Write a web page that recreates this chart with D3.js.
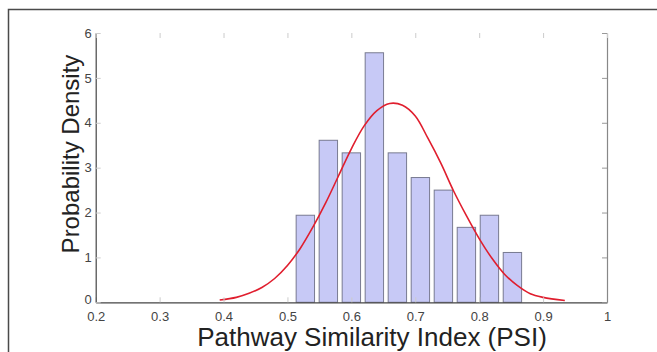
<!DOCTYPE html>
<html>
<head>
<meta charset="utf-8">
<script src="https://d3js.org/d3.v7.min.js"></script>
<style>
  body { margin: 0; background: #fff; }
  svg { display: block; font-family: "Liberation Sans", Arial, sans-serif; }
</style>
</head>
<body>
<div id="chart"></div>
<script>
// canvas size
var width = 657
var height = 352

// histogram: bin centres and probability density
var binCenters = [0.528, 0.564, 0.600, 0.636, 0.672, 0.708, 0.744, 0.780, 0.816, 0.852]
var densities  = [1.94, 3.61, 3.33, 5.56, 3.33, 2.78, 2.50, 1.67, 1.94, 1.11]

// fitted normal curve
var curveX = [0.394, 0.42, 0.44, 0.46, 0.48, 0.50, 0.52, 0.54, 0.56, 0.58, 0.60, 0.62, 0.64, 0.66,
              0.68, 0.70, 0.72, 0.74, 0.76, 0.78, 0.80, 0.82, 0.84, 0.86, 0.88, 0.90, 0.934]
var curveY = [0.05, 0.11, 0.20, 0.33, 0.53, 0.82, 1.20, 1.68, 2.22, 2.82, 3.42, 3.93, 4.27, 4.43,
              4.39, 4.15, 3.65, 3.10, 2.48, 1.93, 1.42, 0.98, 0.62, 0.37, 0.19, 0.11, 0.04]

// tick labels
var xTicks = [0.2, 0.3, 0.4, 0.5, 0.6, 0.7, 0.8, 0.9, 1]
var yTicks = [0, 1, 2, 3, 4, 5, 6]

var binWidth = 0.036
var barFrac = 0.8

var plot = { left: 95.7, right: 607, top: 33, bottom: 302.3 }

var svg = d3.select("#chart")
  .append("svg")
    .attr("width", width)
    .attr("height", height)

// outer frame of the figure
svg.append("rect")
  .attr("x", 8.5)
  .attr("y", 9.5)
  .attr("width", 700)
  .attr("height", 400)
  .attr("fill", "none")
  .attr("stroke", "#4a4a4a")
  .attr("stroke-width", 1.5)

var x = d3.scaleLinear().domain([0.2, 1]).range([plot.left, plot.right])
var y = d3.scaleLinear().domain([0, 6]).range([plot.bottom, plot.top])

// bars
svg.append("g")
  .selectAll("rect")
  .data(binCenters)
  .enter()
  .append("rect")
    .attr("x", function(d){ return x(d - binWidth * barFrac / 2) })
    .attr("width", function(d){ return x(d + binWidth * barFrac / 2) - x(d - binWidth * barFrac / 2) })
    .attr("y", function(d, i){ return y(densities[i]) })
    .attr("height", function(d, i){ return y(0) - y(densities[i]) })
    .attr("fill", "#c7c9f6")
    .attr("stroke", "#55586e")
    .attr("stroke-opacity", 0.75)
    .attr("stroke-width", 1)

// normal fit
var line = d3.line()
  .x(function(d){ return x(d[0]) })
  .y(function(d){ return y(d[1]) })
  .curve(d3.curveCatmullRom)

svg.append("path")
  .datum(d3.zip(curveX, curveY))
  .attr("d", line)
  .attr("fill", "none")
  .attr("stroke", "#e01e2e")
  .attr("stroke-width", 1.6)

// axes (MATLAB style, ticks inward)
var xAxis = svg.append("g")
  .attr("transform", "translate(0," + plot.bottom + ")")
  .call(d3.axisBottom(x).tickValues(xTicks).tickSizeInner(-5).tickSizeOuter(0).tickPadding(9)
        .tickFormat(function(d){ return d === 1 ? "1" : d3.format(".1f")(d) }))
xAxis.select(".domain").attr("stroke", "#444").attr("stroke-width", 1.2)
xAxis.selectAll(".tick line").attr("stroke", "#ccc")
xAxis.selectAll("text").attr("font-size", 13).attr("fill", "#444")

var yAxis = svg.append("g")
  .attr("transform", "translate(" + plot.left + ",0)")
  .call(d3.axisLeft(y).tickValues(yTicks).tickSizeInner(-5).tickSizeOuter(0).tickPadding(4)
        .tickFormat(d3.format("d")))
yAxis.select(".domain").attr("stroke", "#444").attr("stroke-width", 1.2)
yAxis.selectAll(".tick line").attr("stroke", "#ccc")
yAxis.selectAll("text").attr("font-size", 13).attr("fill", "#444")
// the "0" label sits just above the x tick labels
yAxis.selectAll(".tick text").filter(function(d){ return d === 0 }).attr("dy", "0.1em")

// right side and top: ticks only on the top, line on the right
var rAxis = svg.append("g")
  .attr("transform", "translate(" + plot.right + ",0)")
  .call(d3.axisRight(y).tickValues(yTicks).tickSizeInner(-5).tickSizeOuter(0).tickFormat(""))
rAxis.select(".domain").attr("stroke", "#888").attr("stroke-width", 1.2)
rAxis.selectAll(".tick line").attr("stroke", "#999")

var tAxis = svg.append("g")
  .attr("transform", "translate(0," + plot.top + ")")
  .call(d3.axisTop(x).tickValues(xTicks).tickSizeInner(-5).tickSizeOuter(0).tickFormat(""))
tAxis.select(".domain").attr("stroke", "none")
tAxis.selectAll(".tick line").attr("stroke", "#ccc")

// axis titles
svg.append("text")
  .attr("x", 372)
  .attr("y", 346)
  .attr("text-anchor", "middle")
  .attr("font-size", 26)
  .attr("fill", "#222")
  .text("Pathway Similarity Index (PSI)")

svg.append("text")
  .attr("transform", "translate(79,154) rotate(-90)")
  .attr("text-anchor", "middle")
  .attr("font-size", 24)
  .attr("fill", "#222")
  .text("Probability Density")
</script>
</body>
</html>
